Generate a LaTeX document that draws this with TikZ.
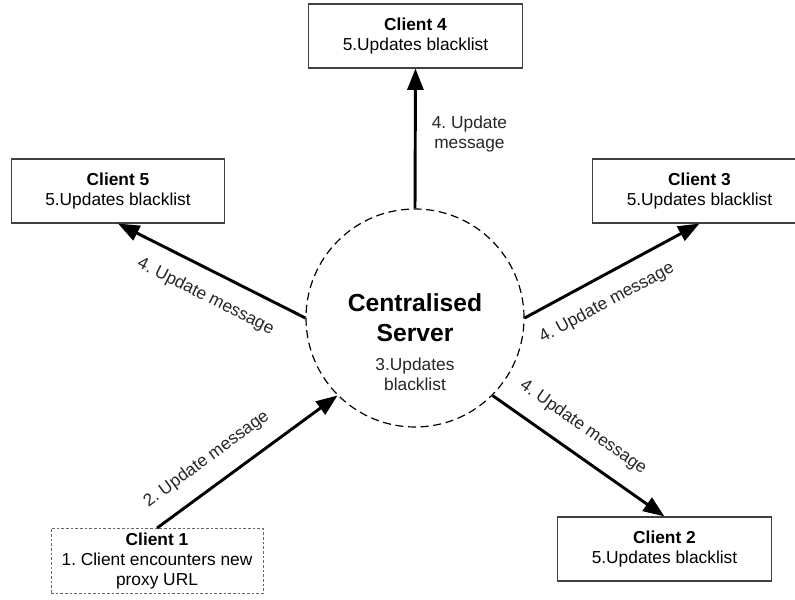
\documentclass[tikz,border=0pt]{standalone}
\usepackage{fontspec}
\setmainfont{Liberation Sans}
\usetikzlibrary{arrows.meta}
\frenchspacing

\begin{document}
\begin{tikzpicture}[x=0.75pt, y=0.75pt,
    client/.style={draw=black!75, line width=0.8pt, minimum width=160pt, minimum height=48pt,
      align=center, font=\fontsize{13}{15}\selectfont},
    firstclient/.style={client, draw=black!60, line width=0.6pt, dash pattern=on 2pt off 1.5pt,
      minimum width=159pt, minimum height=46.5pt},
    msg/.style={line width=2.2pt, -{Triangle[length=16pt, width=12pt]}},
    msglabel/.style={font=\fontsize{13}{15}\selectfont, text=black!85},
  ]
  \useasboundingbox (0,0) rectangle (795,599);

  % the server
  \node[circle, draw, line width=0.9pt, dash pattern=on 6pt off 3.5pt, minimum size=163.5pt] (server) at (415,281) {};
  \node[font=\fontsize{18.5}{22.5}\selectfont\bfseries, align=center] (title) at (server.center) {Centralised\\Server};
  \node[msglabel, align=center] (srvnote) at (415,224.5) {3.Updates\\blacklist};

  % the clients
  \node[firstclient] (c1) at (157,38) {\textbf{Client 1}\\1. Client encounters new\\proxy URL};
  \node[client] (c2) at (664.5,50) {\textbf{Client 2}\\5.Updates blacklist};
  \node[client] (c3) at (699.5,408) {\textbf{Client 3}\\5.Updates blacklist};
  \node[client] (c4) at (415.5,563) {\textbf{Client 4}\\5.Updates blacklist};
  \node[client] (c5) at (118,408) {\textbf{Client 5}\\5.Updates blacklist};

  % messages
  \draw[msg] (c1.north) -- (server.south west)
    node[msglabel, sloped, pos=0.36, above=9pt] {2. Update message};
  \draw[msg] (server.north) -- (c4.south)
    node[msglabel, align=center, pos=0.53, right=8pt] {4. Update\\message};
  \draw[msg] (server.west) -- (c5.south)
    node[msglabel, sloped, pos=0.47, below=9pt] {4. Update message};
  \draw[msg] (server.east) -- (c3.south)
    node[msglabel, sloped, pos=0.4, below=9pt] {4. Update message};
  \draw[msg] (server.south east) -- (c2.north)
    node[msglabel, sloped, pos=0.44, above=9pt] {4. Update message};
\end{tikzpicture}
\end{document}
